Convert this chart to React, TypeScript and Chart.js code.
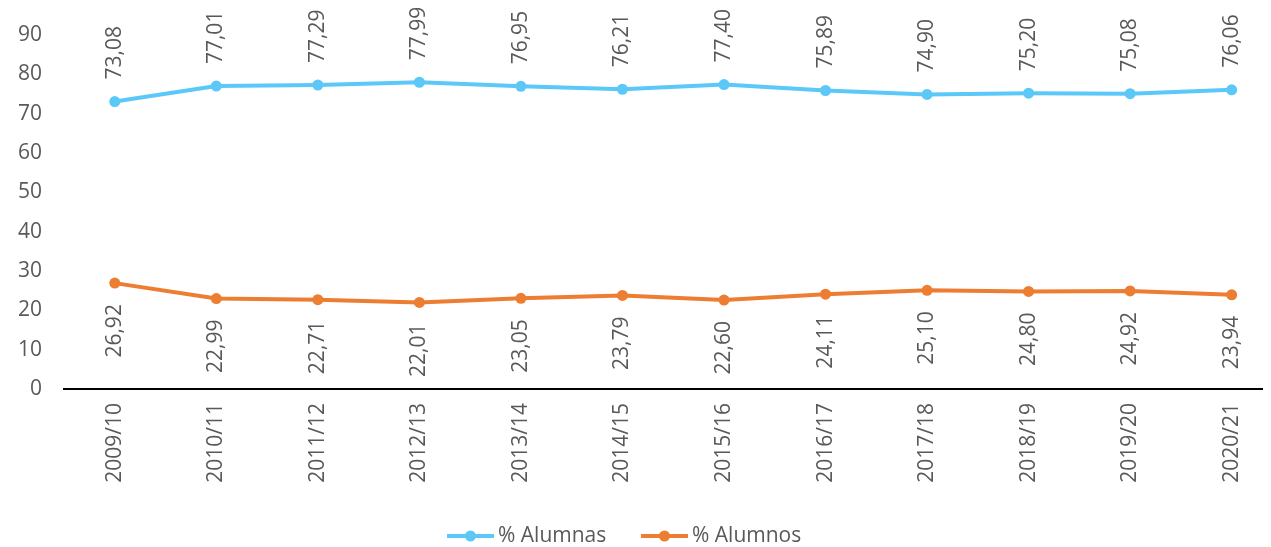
import React, { useEffect, useRef } from "react";
import { Chart, registerables } from "chart.js";

Chart.register(...registerables);

const categories = ["2009/10", "2010/11", "2011/12", "2012/13", "2013/14", "2014/15", "2015/16", "2016/17", "2017/18", "2018/19", "2019/20", "2020/21"];
const alumnas = [73.08, 77.01, 77.29, 77.99, 76.95, 76.21, 77.4, 75.89, 74.9, 75.2, 75.08, 76.06];
const alumnos = [26.92, 22.99, 22.71, 22.01, 23.05, 23.79, 22.6, 24.11, 25.1, 24.8, 24.92, 23.94];
const seriesNames = ["% Alumnas", "% Alumnos"];
const yTicks = [0, 10, 20, 30, 40, 50, 60, 70, 80, 90];

const BLUE = "#5BC8F8";
const ORANGE = "#ED7D31";
const TEXT = "#595959";
const FONT = "'Open Sans', Lato, sans-serif";
const FS = 21;

const fmt = (v: number) => v.toFixed(2).replace(".", ",");

const dataLabelPlugin = {
  id: "dataLabels",
  afterDatasetsDraw(chart: any) {
    const ctx = chart.ctx;
    ctx.save();
    ctx.fillStyle = TEXT;
    ctx.font = `${FS}px ${FONT}`;
    ctx.textBaseline = "middle";
    chart.data.datasets.forEach((ds: any, di: number) => {
      const meta = chart.getDatasetMeta(di);
      meta.data.forEach((pt: any, i: number) => {
        const v = ds.data[i].y;
        ctx.save();
        if (di === 0) {
          ctx.translate(pt.x, pt.y - 22);
          ctx.rotate(-Math.PI / 2);
          ctx.textAlign = "left";
        } else {
          ctx.translate(pt.x, pt.y + 21);
          ctx.rotate(-Math.PI / 2);
          ctx.textAlign = "right";
        }
        ctx.fillText(fmt(v), 0, 0);
        ctx.restore();
      });
    });
    ctx.restore();
  },
};

const legendPlugin = {
  id: "customLegend",
  afterDraw(chart: any) {
    const ctx = chart.ctx;
    const y = 536;
    const items = [
      { x: 447, color: BLUE, label: seriesNames[0] },
      { x: 641, color: ORANGE, label: seriesNames[1] },
    ];
    ctx.save();
    items.forEach((it) => {
      ctx.strokeStyle = it.color;
      ctx.lineWidth = 4;
      ctx.beginPath();
      ctx.moveTo(it.x, y);
      ctx.lineTo(it.x + 47, y);
      ctx.stroke();
      ctx.fillStyle = it.color;
      ctx.beginPath();
      ctx.arc(it.x + 23.5, y, 5.5, 0, Math.PI * 2);
      ctx.fill();
      ctx.fillStyle = TEXT;
      ctx.font = `${FS}px ${FONT}`;
      ctx.textAlign = "left";
      ctx.textBaseline = "middle";
      ctx.fillText(it.label, it.x + 51, y);
    });
    ctx.restore();
  },
};

export default function App() {
  const ref = useRef<HTMLCanvasElement | null>(null);
  useEffect(() => {
    if (!ref.current) return;
    const chart = new Chart(ref.current, {
      type: "line",
      data: {
        datasets: [
          {
            label: seriesNames[0],
            data: alumnas.map((v, i) => ({ x: i, y: v })),
            borderColor: BLUE,
            backgroundColor: BLUE,
            borderWidth: 4,
            pointRadius: 5.5,
            pointBorderWidth: 0,
            pointBackgroundColor: BLUE,
            tension: 0,
          },
          {
            label: seriesNames[1],
            data: alumnos.map((v, i) => ({ x: i, y: v })),
            borderColor: ORANGE,
            backgroundColor: ORANGE,
            borderWidth: 4,
            pointRadius: 5.5,
            pointBorderWidth: 0,
            pointBackgroundColor: ORANGE,
            tension: 0,
          },
        ],
      },
      options: {
        animation: false,
        responsive: true,
        maintainAspectRatio: false,
        layout: { padding: { top: 35, left: 0, right: 0, bottom: 0 } },
        plugins: { legend: { display: false }, tooltip: { enabled: false } },
        scales: {
          x: {
            type: "linear",
            min: -0.5,
            max: 11.3,
            afterBuildTicks: (scale: any) => {
              scale.ticks = categories.map((_, i) => ({ value: i }));
            },
            afterFit: (scale: any) => {
              scale.height = 158;
            },
            grid: { display: false, drawTicks: false },
            border: { display: true, color: "#000000", width: 2 },
            ticks: {
              autoSkip: false,
              maxRotation: 90,
              minRotation: 90,
              padding: 14,
              color: TEXT,
              font: { family: FONT, size: FS },
              callback: (v: any) => categories[Math.round(Number(v))] ?? "",
            },
          },
          y: {
            min: 0,
            max: 90,
            afterBuildTicks: (scale: any) => {
              scale.ticks = yTicks.map((v) => ({ value: v }));
            },
            afterFit: (scale: any) => {
              scale.width = 64;
            },
            grid: { display: false, drawTicks: false },
            border: { display: false },
            ticks: {
              padding: 22,
              color: TEXT,
              font: { family: FONT, size: FS },
            },
          },
        },
      },
      plugins: [dataLabelPlugin, legendPlugin],
    } as any);
    return () => chart.destroy();
  }, []);
  return (
    <div style={{ position: "fixed", left: 0, top: 0, width: 1271, height: 547, background: "#fff" }}>
      <canvas ref={ref} />
    </div>
  );
}
